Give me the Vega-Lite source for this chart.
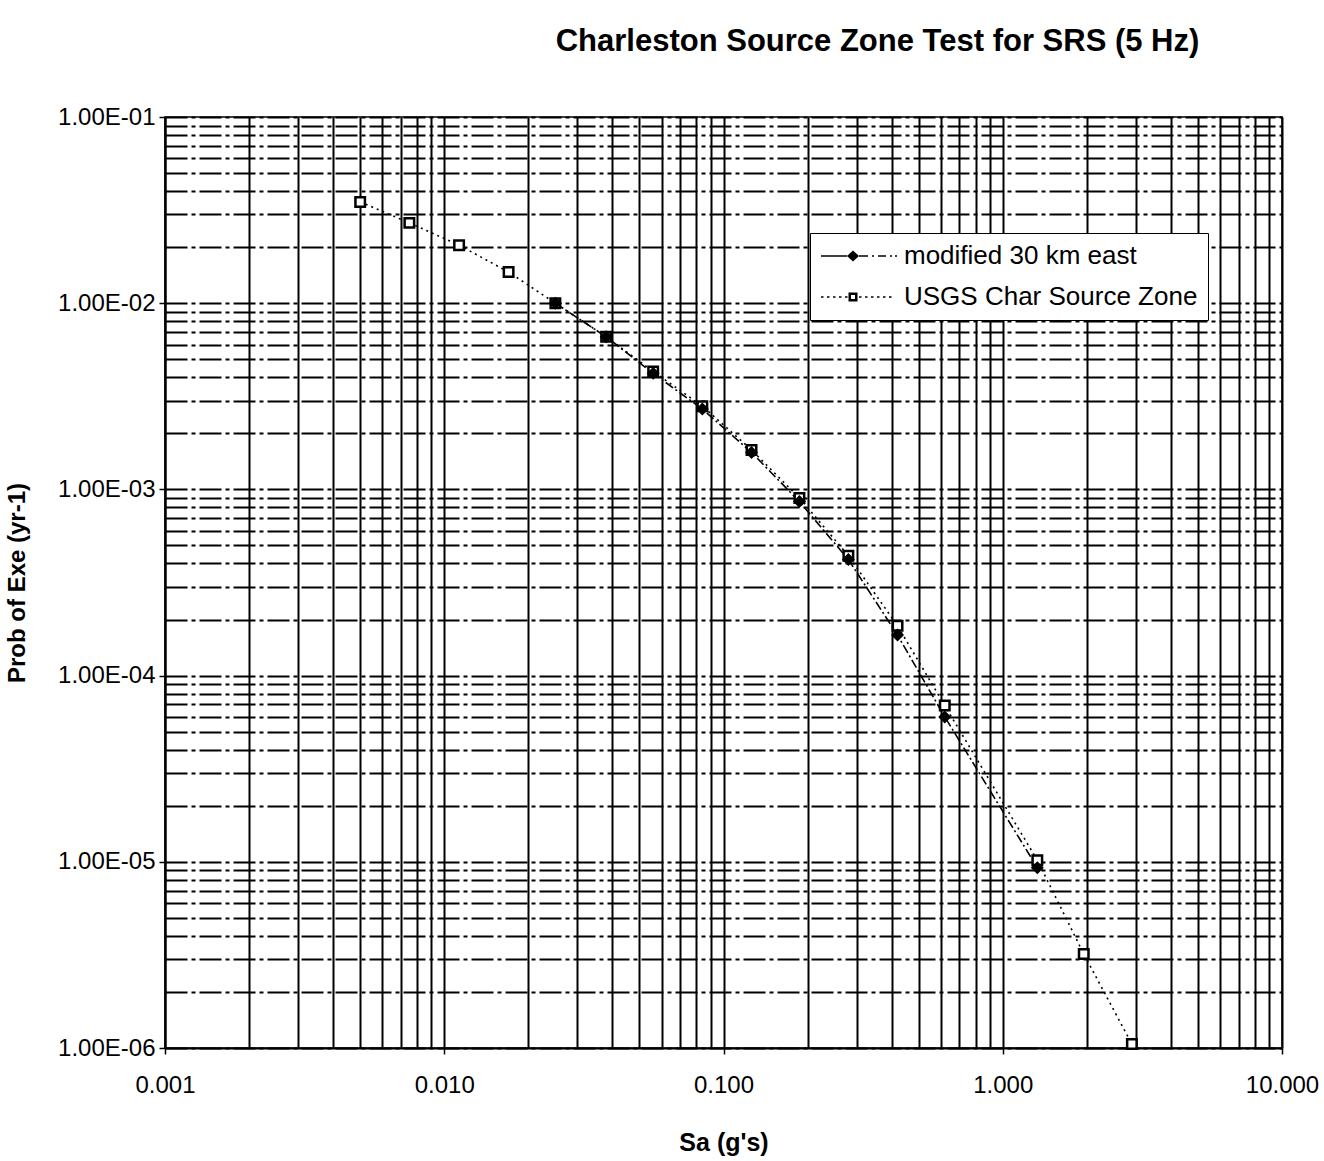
{
  "$schema": "https://vega.github.io/schema/vega-lite/v6.json",
  "autosize": {"type": "none"},
  "width": 1117,
  "height": 931,
  "padding": {"left": 165, "top": 117, "right": 42, "bottom": 113},
  "background": "white",
  "config": {
    "font": "Liberation Sans",
    "view": {"stroke": "black", "strokeWidth": 1.5},
    "axis": {"domainColor": "black", "tickColor": "black", "labelColor": "black", "titleColor": "black"}
  },
  "title": {
    "text": "Charleston Source Zone Test for SRS (5 Hz)",
    "fontSize": 31,
    "fontWeight": "bold",
    "font": "Liberation Sans",
    "color": "black",
    "anchor": "middle",
    "dx": 154,
    "baseline": "bottom",
    "offset": 16
  },
  "data": {
    "values": [
      {"series": "USGS Char Source Zone", "sa": 0.005, "p": 0.035},
      {"series": "USGS Char Source Zone", "sa": 0.0075, "p": 0.027},
      {"series": "USGS Char Source Zone", "sa": 0.0113, "p": 0.0205},
      {"series": "USGS Char Source Zone", "sa": 0.017, "p": 0.0147},
      {"series": "USGS Char Source Zone", "sa": 0.025, "p": 0.0100},
      {"series": "USGS Char Source Zone", "sa": 0.038, "p": 0.0066},
      {"series": "USGS Char Source Zone", "sa": 0.056, "p": 0.0043},
      {"series": "USGS Char Source Zone", "sa": 0.084, "p": 0.0028},
      {"series": "USGS Char Source Zone", "sa": 0.126, "p": 0.00163},
      {"series": "USGS Char Source Zone", "sa": 0.187, "p": 0.00090},
      {"series": "USGS Char Source Zone", "sa": 0.28, "p": 0.00044},
      {"series": "USGS Char Source Zone", "sa": 0.42, "p": 0.000185},
      {"series": "USGS Char Source Zone", "sa": 0.62, "p": 0.000069},
      {"series": "USGS Char Source Zone", "sa": 1.33, "p": 0.0000102},
      {"series": "USGS Char Source Zone", "sa": 1.95, "p": 0.0000032},
      {"series": "USGS Char Source Zone", "sa": 2.9, "p": 0.00000105},
      {"series": "modified 30 km east", "sa": 0.025, "p": 0.0100},
      {"series": "modified 30 km east", "sa": 0.038, "p": 0.0066},
      {"series": "modified 30 km east", "sa": 0.056, "p": 0.0042},
      {"series": "modified 30 km east", "sa": 0.084, "p": 0.0027},
      {"series": "modified 30 km east", "sa": 0.126, "p": 0.00158},
      {"series": "modified 30 km east", "sa": 0.187, "p": 0.00086},
      {"series": "modified 30 km east", "sa": 0.28, "p": 0.00042},
      {"series": "modified 30 km east", "sa": 0.42, "p": 0.000165},
      {"series": "modified 30 km east", "sa": 0.62, "p": 0.000060},
      {"series": "modified 30 km east", "sa": 1.33, "p": 0.0000093}
    ]
  },
  "layer": [
    {
      "mark": {"type": "line", "color": "black", "strokeWidth": 1.6},
      "encoding": {
        "x": {
          "field": "sa", "type": "quantitative",
          "scale": {"type": "log", "domain": [0.001, 10], "nice": false},
          "axis": {
            "values": [0.001,0.002,0.003,0.004,0.005,0.006,0.007,0.008,0.009,0.01,0.02,0.03,0.04,0.05,0.06,0.07,0.08,0.09,0.1,0.2,0.3,0.4,0.5,0.6,0.7,0.8,0.9,1,2,3,4,5,6,7,8,9,10],
            "labelExpr": "abs(log(datum.value) / LN10 - round(log(datum.value) / LN10)) < 0.001 ? format(datum.value, '.3f') : ''",
            "grid": true, "gridColor": "black", "gridWidth": 2, "gridOpacity": 1,
            "ticks": true, "tickSize": 6, "tickWidth": 1.5,
            "tickOpacity": {"condition": {"test": "abs(log(datum.value) / LN10 - round(log(datum.value) / LN10)) < 0.001", "value": 1}, "value": 0},
            "domain": true, "domainWidth": 2,
            "labelFontSize": 24, "labelPadding": 19, "labelFlush": false, "labelOverlap": false,
            "title": "Sa (g's)", "titleFontSize": 25, "titleFontWeight": "bold", "titlePadding": 33
          }
        },
        "y": {
          "field": "p", "type": "quantitative",
          "scale": {"type": "log", "domain": [0.000001, 0.1], "nice": false},
          "axis": {
            "values": [0.000001,0.000002,0.000003,0.000004,0.000005,0.000006,0.000007,0.000008,0.000009,0.00001,0.00002,0.00003,0.00004,0.00005,0.00006,0.00007,0.00008,0.00009,0.0001,0.0002,0.0003,0.0004,0.0005,0.0006,0.0007,0.0008,0.0009,0.001,0.002,0.003,0.004,0.005,0.006,0.007,0.008,0.009,0.01,0.02,0.03,0.04,0.05,0.06,0.07,0.08,0.09,0.1],
            "labelExpr": "abs(log(datum.value) / LN10 - round(log(datum.value) / LN10)) < 0.001 ? '1.00E-0' + round(-log(datum.value) / LN10) : ''",
            "grid": true, "gridColor": "black", "gridWidth": 1.8, "gridOpacity": 1, "gridDash": [22, 4, 4, 4],
            "ticks": true, "tickSize": 6, "tickWidth": 1.5,
            "tickOpacity": {"condition": {"test": "abs(log(datum.value) / LN10 - round(log(datum.value) / LN10)) < 0.001", "value": 1}, "value": 0},
            "domain": true, "domainWidth": 2,
            "labelFontSize": 24, "labelPadding": 4, "labelFlush": false, "labelOverlap": false,
            "title": "Prob of Exe (yr-1)", "titleFontSize": 24, "titleFontWeight": "bold", "titlePadding": 28
          }
        },
        "detail": {"field": "series"},
        "strokeDash": {
          "condition": {"test": "datum.series === 'USGS Char Source Zone'", "value": [2, 4]},
          "value": [9, 3, 2, 3]
        }
      }
    },
    {
      "mark": {"type": "point", "filled": true, "stroke": "black", "strokeWidth": 2.5, "opacity": 1},
      "encoding": {
        "x": {"field": "sa", "type": "quantitative"},
        "y": {"field": "p", "type": "quantitative"},
        "shape": {
          "condition": {"test": "datum.series === 'USGS Char Source Zone'", "value": "square"},
          "value": "diamond"
        },
        "fill": {
          "condition": {"test": "datum.series === 'USGS Char Source Zone'", "value": "white"},
          "value": "black"
        },
        "size": {"value": 90}
      }
    },
    {
      "mark": {"type": "point", "filled": true, "color": "black", "stroke": "black", "strokeWidth": 1.6, "opacity": 0},
      "encoding": {
        "x": {"field": "sa", "type": "quantitative"},
        "y": {"field": "p", "type": "quantitative"},
        "shape": {
          "field": "series", "type": "nominal",
          "scale": {
            "domain": ["modified 30 km east", "USGS Char Source Zone"],
            "range": [
              "M-1.2,-0.08H1.4V0.08H-1.2ZM1.4,0L2,-0.55L2.6,0L2,0.55ZM2.6,-0.08H3.5V0.08H2.6ZM3.9,-0.08H4.1V0.08H3.9ZM4.5,-0.08H5.3V0.08H4.5ZM5.7,-0.08H5.9V0.08H5.7ZM6.2,-0.08H6.4V0.08H6.2Z",
              "M-1.2,-0.08H-0.95V0.08H-1.2ZM-0.6,-0.08H-0.35V0.08H-0.6ZM0,-0.08H0.25V0.08H0ZM0.6,-0.08H0.85V0.08H0.6ZM1.2,-0.08H1.45V0.08H1.2ZM1.55,-0.45H2.45V0.45H1.55ZM1.8,-0.2V0.2H2.2V-0.2ZM2.6,-0.08H2.85V0.08H2.6ZM3.2,-0.08H3.45V0.08H3.2ZM3.8,-0.08H4.05V0.08H3.8ZM4.4,-0.08H4.65V0.08H4.4ZM5,-0.08H5.25V0.08H5ZM5.6,-0.08H5.85V0.08H5.6Z"
            ]
          },
          "legend": {
            "title": null,
            "orient": "none",
            "legendX": 645,
            "legendY": 116,
            "fillColor": "white",
            "strokeColor": "black",
            "padding": 10,
            "symbolSize": 400,
            "symbolOpacity": 1,
            "symbolFillColor": "black",
            "symbolStrokeColor": "black",
            "symbolStrokeWidth": 1,
            "labelFontSize": 26,
            "labelColor": "black",
            "labelOffset": 58,
            "rowPadding": 15,
            "labelLimit": 400
          }
        }
      }
    }
  ]
}
